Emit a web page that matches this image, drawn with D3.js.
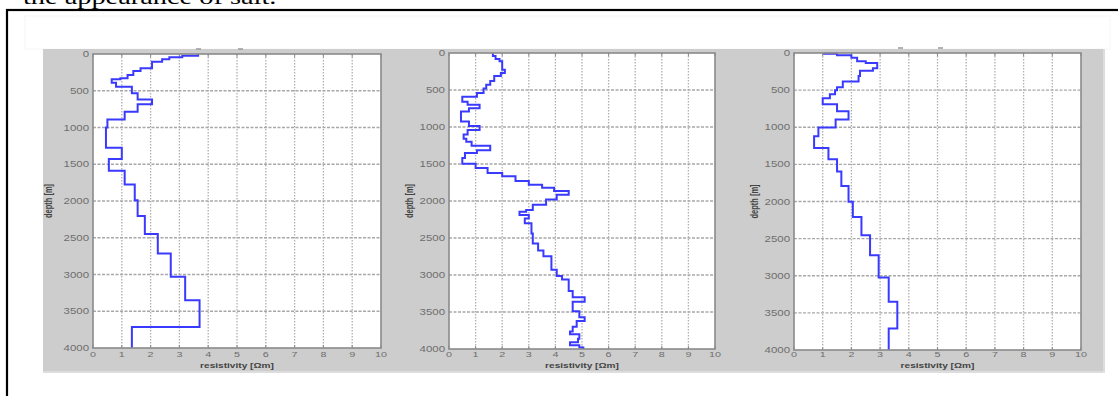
<!DOCTYPE html>
<html><head><meta charset="utf-8">
<script src="https://cdn.jsdelivr.net/npm/d3@7"></script>
<style>body{margin:0;background:#fff;}svg{display:block;}</style>
</head><body>
<svg id="c" width="1118" height="396"></svg>
<script>
// ---- data ----
const caption = "the appearance of salt.";
const xTicks = [0,1,2,3,4,5,6,7,8,9,10];
const depthTicks = [0,500,1000,1500,2000,2500,3000,3500,4000];
const xLabel = "resistivity [\u03A9m]";
const yLabel = "depth [m]";

// panel 1: layer top depths (m) and resistivities (Ωm)
const depth1 = [0,25,45,70,105,195,230,285,330,345,390,445,535,620,685,785,890,1000,1275,1430,1590,1775,1990,2205,2450,2715,3030,3350,3715];
const res1   = [3.65,3.1,2.65,2.4,2.05,1.65,1.4,1.2,0.95,0.65,0.8,1.35,1.55,2.05,1.55,1.1,0.5,0.45,1.0,0.55,1.1,1.45,1.55,1.8,2.25,2.7,3.2,3.7,1.35];

// panel 2
const depth2 = [0,40,80,110,225,270,310,380,430,480,540,590,660,700,745,790,925,985,1040,1100,1160,1200,1255,1315,1350,1420,1495,1555,1620,1665,1730,1780,1820,1865,1915,1980,2050,2120,2145,2190,2235,2300,2440,2575,2670,2745,2930,3015,3060,3215,3300,3360,3490,3570,3620,3700,3765,3800,3860,3910,3950,3980];
const res2   = [1.65,1.75,1.9,2.0,2.1,1.95,1.7,1.55,1.4,1.3,1.05,0.5,0.7,1.15,0.75,0.45,0.75,1.15,0.7,0.55,0.65,0.85,1.55,1.05,0.6,0.5,1.0,1.45,2.0,2.5,3.0,3.5,3.95,4.5,4.05,3.65,3.15,2.9,2.65,3.0,2.85,3.1,3.15,3.35,3.55,3.85,4.05,4.25,4.5,4.65,5.1,4.65,4.9,5.1,4.8,4.65,4.55,4.9,4.85,4.55,4.9,5.05];

// panel 3
const depth3 = [0,10,30,65,110,135,205,240,310,385,460,500,555,610,690,785,895,1005,1120,1280,1430,1595,1790,2005,2210,2455,2725,3025,3350,3710];
const res3   = [1.05,1.5,2.0,2.2,2.5,2.9,2.75,2.3,2.25,1.7,1.5,1.43,1.25,1.0,1.5,1.9,1.45,0.85,0.7,1.2,1.5,1.65,1.9,2.05,2.35,2.65,2.95,3.3,3.6,3.3];

// ---- layout ----
const panels = [
  {depth: depth1, res: res1, l: 93,  r: 381, t: 54, b: 348, ylab: 49},
  {depth: depth2, res: res2, l: 449, r: 715, t: 53, b: 349, ylab: 410},
  {depth: depth3, res: res3, l: 794, r: 1081, t: 53, b: 350, ylab: 755}
];
const SX = 1.35; // horizontal stretch of the original picture

const svg = d3.select("#c");

// caption (cut off at top)
svg.append("text")
  .attr("transform", `translate(23,4) scale(${SX},1)`)
  .attr("font-family", "Liberation Serif, Times New Roman, serif")
  .attr("font-size", 21).attr("fill", "#000").text(caption);

// outer frame (only left and top visible)
svg.append("rect").attr("x", 7).attr("y", 10).attr("width", 1130).attr("height", 410)
  .attr("fill", "none").attr("stroke", "#000").attr("stroke-width", 2.2);

// faint inner box
svg.append("rect").attr("x", 25).attr("y", 16).attr("width", 1085).attr("height", 33)
  .attr("fill", "none").attr("stroke", "#f6f6f6").attr("stroke-width", 1);

// gray figure background
svg.append("rect").attr("x", 43).attr("y", 49).attr("width", 1062).attr("height", 324)
  .attr("fill", "#cdcdcd");
svg.append("line").attr("x1", 43).attr("x2", 1105).attr("y1", 372).attr("y2", 372)
  .attr("stroke", "#e2e2e2").attr("stroke-width", 1.5);
svg.append("line").attr("x1", 1104).attr("x2", 1104).attr("y1", 49).attr("y2", 373)
  .attr("stroke", "#e2e2e2").attr("stroke-width", 1.5);

function stretchText(g, x, y, txt, anchor, size, fill, weight) {
  return g.append("text")
    .attr("transform", `translate(${x},${y}) scale(${SX},1)`)
    .attr("text-anchor", anchor)
    .attr("font-family", "Liberation Sans, Arial, sans-serif")
    .attr("font-size", size).attr("fill", fill)
    .attr("font-weight", weight || "normal")
    .text(txt);
}

panels.forEach((p, pi) => {
  const x = d3.scaleLinear().domain([0, 10]).range([p.l, p.r]);
  const y = d3.scaleLinear().domain([0, 4000]).range([p.t, p.b]);
  const g = svg.append("g");

  g.append("rect").attr("x", p.l).attr("y", p.t).attr("width", p.r - p.l).attr("height", p.b - p.t)
    .attr("fill", "#fff");

  // grid
  g.selectAll(".vg").data(xTicks.slice(1, -1)).join("line")
    .attr("x1", d => x(d)).attr("x2", d => x(d)).attr("y1", p.t).attr("y2", p.b)
    .attr("stroke", "#b0b0b0").attr("stroke-width", 1.3).attr("stroke-dasharray", "1.5,1.5");
  g.selectAll(".hg").data(depthTicks.slice(1, -1)).join("line")
    .attr("x1", p.l).attr("x2", p.r).attr("y1", d => y(d)).attr("y2", d => y(d))
    .attr("stroke", "#a8a8a8").attr("stroke-width", 1.3).attr("stroke-dasharray", "3,1.5");

  // inward ticks
  g.selectAll(".tt").data(xTicks).join("line")
    .attr("x1", d => x(d)).attr("x2", d => x(d)).attr("y1", p.t).attr("y2", p.t + 3)
    .attr("stroke", "#888");
  g.selectAll(".tb").data(xTicks).join("line")
    .attr("x1", d => x(d)).attr("x2", d => x(d)).attr("y1", p.b).attr("y2", p.b - 3)
    .attr("stroke", "#888");

  // profile
  const pts = p.depth.map((d, i) => [p.res[i], d]);
  pts.push([p.res[p.res.length - 1], 4000]);
  const line = d3.line().x(d => x(d[0])).y(d => y(d[1])).curve(d3.curveStepBefore);
  g.append("path").attr("d", line(pts)).attr("fill", "none")
    .attr("stroke", "#3a3aff").attr("stroke-width", 2).attr("stroke-linejoin", "miter");

  // frame
  g.append("rect").attr("x", p.l).attr("y", p.t).attr("width", p.r - p.l).attr("height", p.b - p.t)
    .attr("fill", "none").attr("stroke", "#8a8a8a").attr("stroke-width", 1.6);

  // tick labels
  xTicks.forEach(t => stretchText(g, x(t), 357, String(t), "middle", 8, "#6e6e6e"));
  depthTicks.forEach(t => stretchText(g, p.l - 4, y(t) + 3, String(t), "end", 8.5, "#6e6e6e"));

  // axis labels
  stretchText(g, (p.l + p.r) / 2, 368, xLabel, "middle", 7.5, "#444", "bold");
  g.append("text")
    .attr("transform", `translate(${p.ylab + 3},${(p.t + p.b) / 2}) scale(${SX},1) rotate(-90)`)
    .attr("text-anchor", "middle")
    .attr("font-family", "Liberation Sans, Arial, sans-serif")
    .attr("font-size", 7.5).attr("font-weight", "bold").attr("fill", "#444")
    .text(yLabel);
});

// small remnants of cut-off titles above panels 1 and 3
[[196, 49], [238, 49], [898, 48], [938, 48]].forEach(([a, b]) =>
  svg.append("line").attr("x1", a).attr("x2", a + 5).attr("y1", b).attr("y2", b)
    .attr("stroke", "#9a9a9a").attr("stroke-width", 1.5));
</script>
</body></html>
